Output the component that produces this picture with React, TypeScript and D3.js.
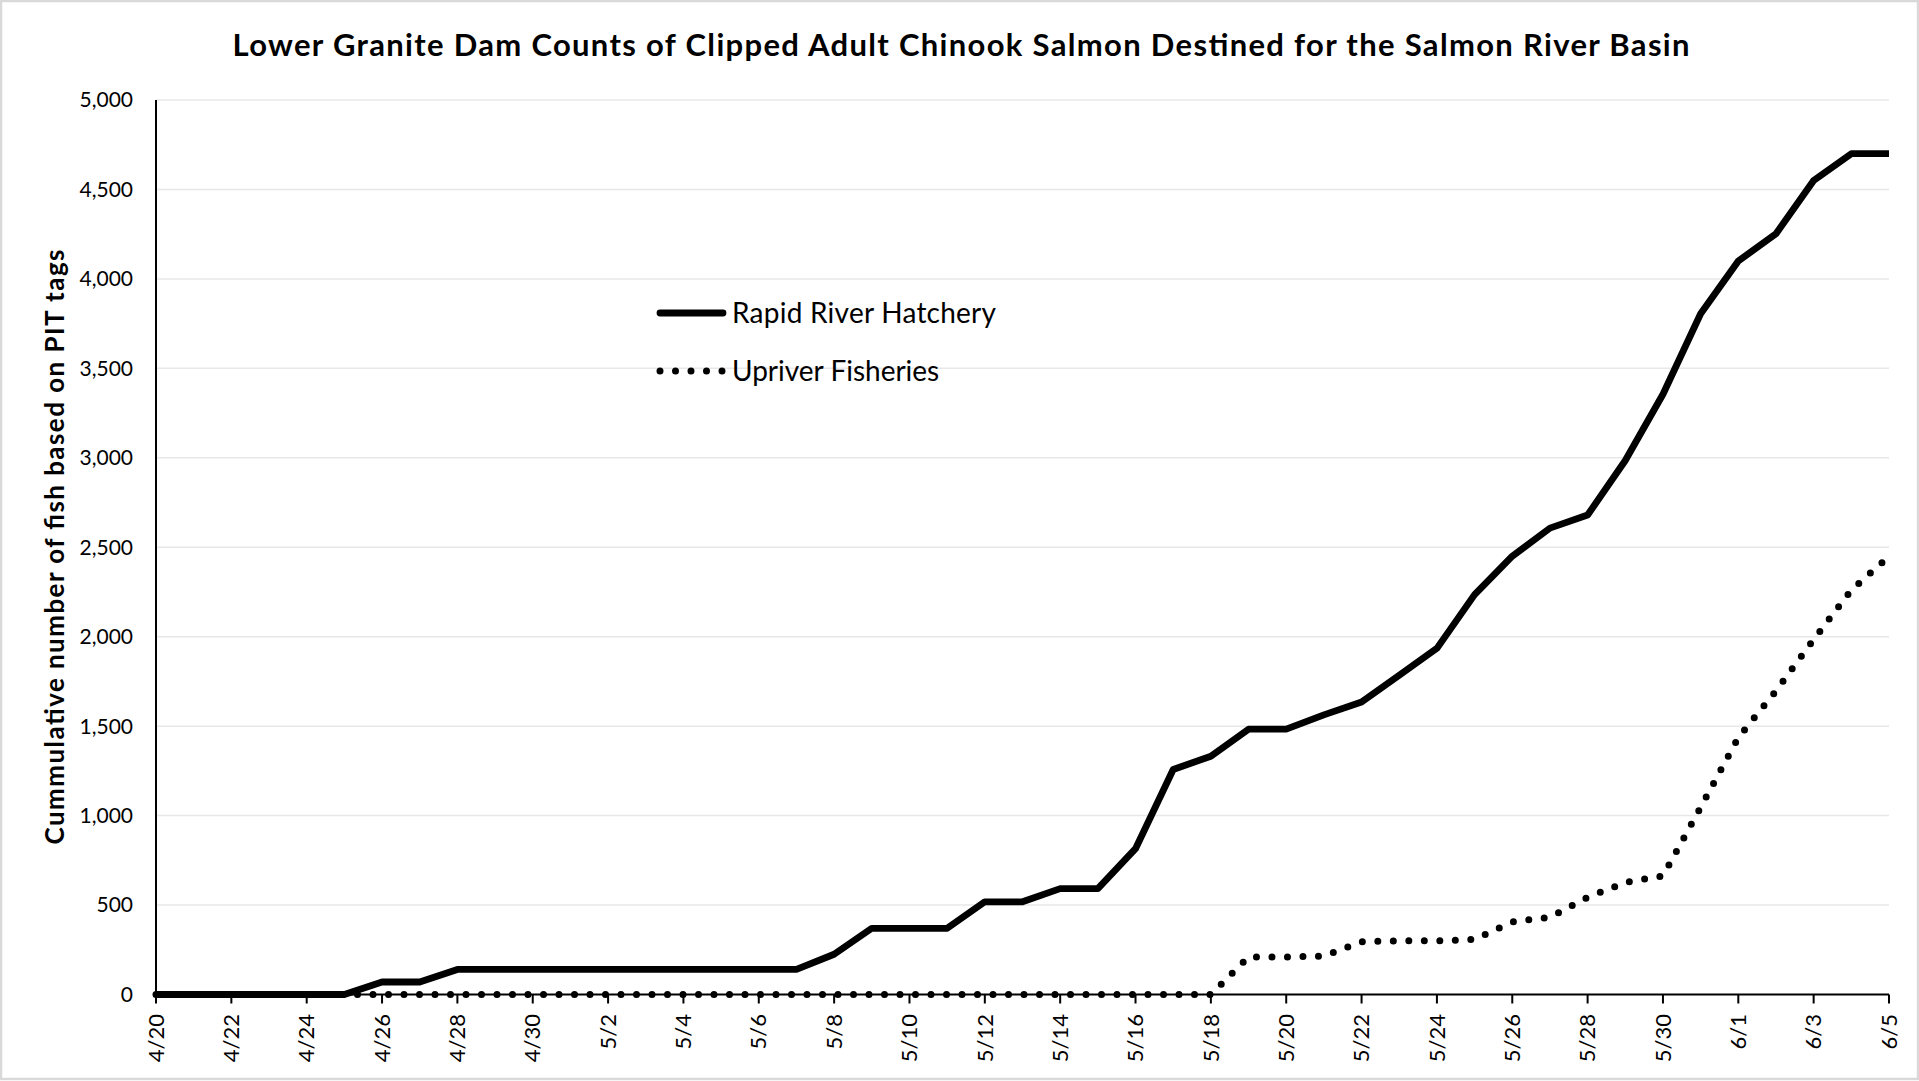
import React from "react";
import * as d3 from "d3";

// daily dates on the category axis
const dates = [
  "4/20", "4/21", "4/22", "4/23", "4/24", "4/25", "4/26", "4/27", "4/28", "4/29", "4/30",
  "5/1", "5/2", "5/3", "5/4", "5/5", "5/6", "5/7", "5/8", "5/9", "5/10",
  "5/11", "5/12", "5/13", "5/14", "5/15", "5/16", "5/17", "5/18", "5/19", "5/20",
  "5/21", "5/22", "5/23", "5/24", "5/25", "5/26", "5/27", "5/28", "5/29", "5/30", "5/31",
  "6/1", "6/2", "6/3", "6/4", "6/5",
];

const rapidRiver = [
  0, 0, 0, 0, 0, 0, 70, 70, 140, 140, 140,
  140, 140, 140, 140, 140, 140, 140, 225, 370, 370,
  370, 518, 518, 592, 592, 815, 1258, 1332, 1483, 1483,
  1563, 1635, 1785, 1935, 2235, 2450, 2607, 2680, 2985, 3355, 3805,
  4100, 4252, 4550, 4700, 4700,
];

const upriver = [
  0, 0, 0, 0, 0, 0, 0, 0, 0, 0, 0,
  0, 0, 0, 0, 0, 0, 0, 0, 0, 0,
  0, 0, 0, 0, 0, 0, 0, 0, 210, 210,
  215, 295, 300, 300, 308, 406, 432, 543, 626, 663, 1046,
  1436, 1697, 1984, 2261, 2448,
];

const yTicks = [0, 500, 1000, 1500, 2000, 2500, 3000, 3500, 4000, 4500, 5000];

const W = 1919;
const H = 1081;
const left = 156;
const right = 1889;
const top = 100;
const bottom = 994.5;

const font = "Lato, 'Open Sans', sans-serif";

export default function App() {
  const x = d3.scalePoint<string>().domain(dates).range([left, right]);
  const y = d3.scaleLinear().domain([0, 5000]).range([bottom, top]);
  const line = d3
    .line<number>()
    .x((_, i) => x(dates[i]) as number)
    .y((d) => y(d));
  const fmt = d3.format(",");
  const labelDates = dates.filter((_, i) => i % 2 === 0);

  return (
    <svg
      width={W}
      height={H}
      style={{ position: "absolute", left: 0, top: 0 }}
      fontFamily={font}
    >
      <rect x={1} y={1} width={W - 2} height={H - 3} fill="#fff" stroke="#d9d9d9" strokeWidth={2.5} />

      <text
        x={961}
        y={56}
        textAnchor="middle"
        fontSize={31}
        fontWeight="bold"
        textLength={1457}
      >
        Lower Granite Dam Counts of Clipped Adult Chinook Salmon Destined for the Salmon River Basin
      </text>

      {/* gridlines */}
      {yTicks.slice(1).map((t) => (
        <line key={t} x1={left} x2={right} y1={y(t)} y2={y(t)} stroke="#e8e8e8" strokeWidth={1.5} />
      ))}

      {/* y labels */}
      {yTicks.map((t) => (
        <text key={t} x={133} y={y(t)} dy="0.35em" textAnchor="end" fontSize={21}>
          {fmt(t)}
        </text>
      ))}

      <text
        transform="translate(64,547) rotate(-90)"
        textAnchor="middle"
        fontSize={26}
        fontWeight="bold"
        textLength={595}
      >
        Cummulative number of fish based on PIT tags
      </text>

      {/* axes */}
      <line x1={left} x2={left} y1={top} y2={bottom} stroke="#000" strokeWidth={2} />
      <line x1={left} x2={right} y1={bottom} y2={bottom} stroke="#000" strokeWidth={2} />
      {labelDates.map((d) => (
        <g key={d}>
          <line x1={x(d)} x2={x(d)} y1={bottom} y2={bottom + 9} stroke="#000" strokeWidth={2} />
          <text
            transform={`translate(${x(d)},1014) rotate(-90)`}
            dy="0.35em"
            textAnchor="end"
            fontSize={22}
          >
            {d}
          </text>
        </g>
      ))}

      {/* series */}
      <path
        d={line(upriver) || ""}
        fill="none"
        stroke="#000"
        strokeWidth={7}
        strokeDasharray="0 15.5"
        strokeLinecap="round"
        strokeLinejoin="round"
      />
      <path
        d={line(rapidRiver) || ""}
        fill="none"
        stroke="#000"
        strokeWidth={6.8}
        strokeLinejoin="round"
      />

      {/* legend */}
      <line x1={660} x2={723} y1={313} y2={313} stroke="#000" strokeWidth={6.8} strokeLinecap="round" />
      <text x={732} y={313} dy="0.35em" fontSize={28} textLength={264}>
        Rapid River Hatchery
      </text>
      <line
        x1={660}
        x2={723}
        y1={371}
        y2={371}
        stroke="#000"
        strokeWidth={7}
        strokeDasharray="0 15.5"
        strokeLinecap="round"
      />
      <text x={732} y={371} dy="0.35em" fontSize={28}>
        Upriver Fisheries
      </text>
    </svg>
  );
}
